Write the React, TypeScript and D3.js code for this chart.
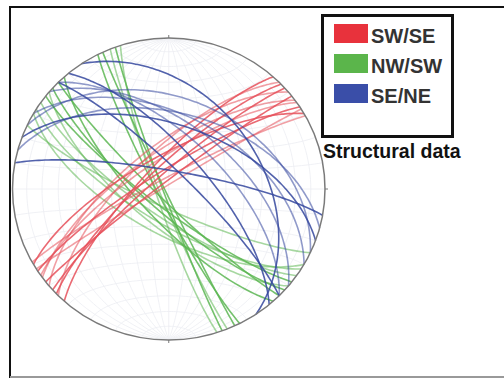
import React from 'react';
import * as d3 from 'd3';

// great circles, lower hemisphere: dip direction (deg) and dip (deg)
const swseDipDir = [312, 315, 318, 320, 322, 325, 327, 328, 330, 331, 316, 324];
const swseDip = [76, 70, 82, 67, 86, 74, 80, 88, 72, 84, 78, 70];

const nwswDipDir = [245, 248, 250, 252, 243, 215, 218, 220, 222, 212, 225, 210, 228, 205];
const nwswDip = [88, 85, 87, 83, 84, 75, 80, 70, 78, 72, 84, 66, 74, 80];

const seneDipDir = [56, 45, 45, 40, 50, 25, 10, 30, 20, 15];
const seneDip = [40, 62, 80, 55, 70, 40, 80, 50, 55, 48];

const legendLabels = ['SW/SE', 'NW/SW', 'SE/NE'];
const legendTitle = 'Structural data';

const W = 504;
const H = 385;
const rad = Math.PI / 180;

// net placement
const x = d3.scaleLinear().domain([-1, 1]).range([12.5, 325]);
const y = d3.scaleLinear().domain([-1, 1]).range([340, 38]);

// vector (east, north, down) -> equal area projection
function project(v: number[]): [number, number] {
  const len = Math.hypot(v[0], v[1], v[2]);
  const e = v[0] / len, n = v[1] / len, dn = Math.max(0, v[2] / len);
  const plunge = Math.asin(dn);
  const trend = Math.atan2(e, n);
  const r = Math.SQRT2 * Math.sin((Math.PI / 2 - plunge) / 2);
  return [r * Math.sin(trend), r * Math.cos(trend)];
}

function greatCircle(dipDir: number, dip: number): [number, number][] {
  const s = (dipDir - 90) * rad;
  const dd = dipDir * rad;
  const d = dip * rad;
  const sv = [Math.sin(s), Math.cos(s), 0];
  const dv = [Math.sin(dd) * Math.cos(d), Math.cos(dd) * Math.cos(d), Math.sin(d)];
  return d3.range(0, 181, 2).map(t => {
    const a = t * rad;
    return project([
      Math.cos(a) * sv[0] + Math.sin(a) * dv[0],
      Math.cos(a) * sv[1] + Math.sin(a) * dv[1],
      Math.cos(a) * sv[2] + Math.sin(a) * dv[2],
    ]);
  });
}

// small circle around the N-S axis
function smallCircle(alpha: number, side: number): [number, number][] {
  const a = alpha * rad;
  return d3.range(0, 181, 3).map(t => {
    const p = t * rad;
    return project([Math.sin(a) * Math.cos(p), side * Math.cos(a), Math.sin(a) * Math.sin(p)]);
  });
}

const line = d3.line<[number, number]>()
  .x(d => x(d[0]))
  .y(d => y(d[1]))
  .curve(d3.curveCatmullRom);

const sets = [
  { dipDir: nwswDipDir, dip: nwswDip, color: '#5cb652' },
  { dipDir: swseDipDir, dip: swseDip, color: '#e6505a' },
  { dipDir: seneDipDir, dip: seneDip, color: '#34479e' },
];
const swatchColors = ['#e8323c', '#5bb54b', '#3a4ea8'];

export default function App() {
  const cx = x(0), cy = y(0);
  const rx = x(1) - cx, ry = cy - y(1);
  const grid = d3.range(10, 90, 10);

  return (
    <svg width={W} height={H} style={{ position: 'fixed', left: 0, top: 0, background: '#fff' }}
      fontFamily="Liberation Sans, Arial, sans-serif">
      <rect x={0} y={0} width={W} height={H} fill="#fff" />
      {/* frame */}
      <line x1={10} y1={7} x2={W} y2={7} stroke="#111" strokeWidth={2} />
      <line x1={10} y1={6} x2={10} y2={378} stroke="#111" strokeWidth={2} />
      <line x1={10} y1={377} x2={W} y2={377} stroke="#999" strokeWidth={2} />

      {/* net grid */}
      <g fill="none" stroke="#eceef2" strokeWidth={0.8}>
        {grid.map(g => (
          <g key={g}>
            <path d={line(greatCircle(90, g)) || ''} />
            <path d={line(greatCircle(270, g)) || ''} />
            <path d={line(smallCircle(g, 1)) || ''} />
            <path d={line(smallCircle(g, -1)) || ''} />
          </g>
        ))}
        <line x1={x(-1)} y1={cy} x2={x(1)} y2={cy} />
        <line x1={cx} y1={y(1)} x2={cx} y2={y(-1)} />
      </g>

      {/* data */}
      {sets.map((set, si) => (
        <g key={si} fill="none" stroke={set.color} strokeWidth={1.6}>
          {set.dipDir.map((dd, i) => (
            <path key={i} d={line(greatCircle(dd, set.dip[i])) || ''}
              strokeOpacity={i % 2 ? 0.55 : 0.85} />
          ))}
        </g>
      ))}

      {/* primitive */}
      <ellipse cx={cx} cy={cy} rx={rx} ry={ry} fill="none" stroke="#7a7a7a" strokeWidth={1.5} />
      <g stroke="#7a7a7a" strokeWidth={1}>
        <line x1={cx} y1={y(1) - 3} x2={cx} y2={y(1)} />
        <line x1={cx} y1={y(-1)} x2={cx} y2={y(-1) + 3} />
        <line x1={x(1)} y1={cy} x2={x(1) + 3} y2={cy} />
      </g>

      {/* legend */}
      <rect x={322.5} y={15.5} width={130} height={121} fill="#fff" stroke="#111" strokeWidth={3} />
      {legendLabels.map((lab, i) => (
        <g key={lab}>
          <rect x={334} y={24 + i * 30} width={34} height={19} fill={swatchColors[i]} />
          <text x={371} y={43 + i * 30} fontSize={20} fontWeight="bold" fill="#333">{lab}</text>
        </g>
      ))}
      <text x={323} y={158} fontSize={19.5} fontWeight="bold" fill="#111">{legendTitle}</text>
    </svg>
  );
}
